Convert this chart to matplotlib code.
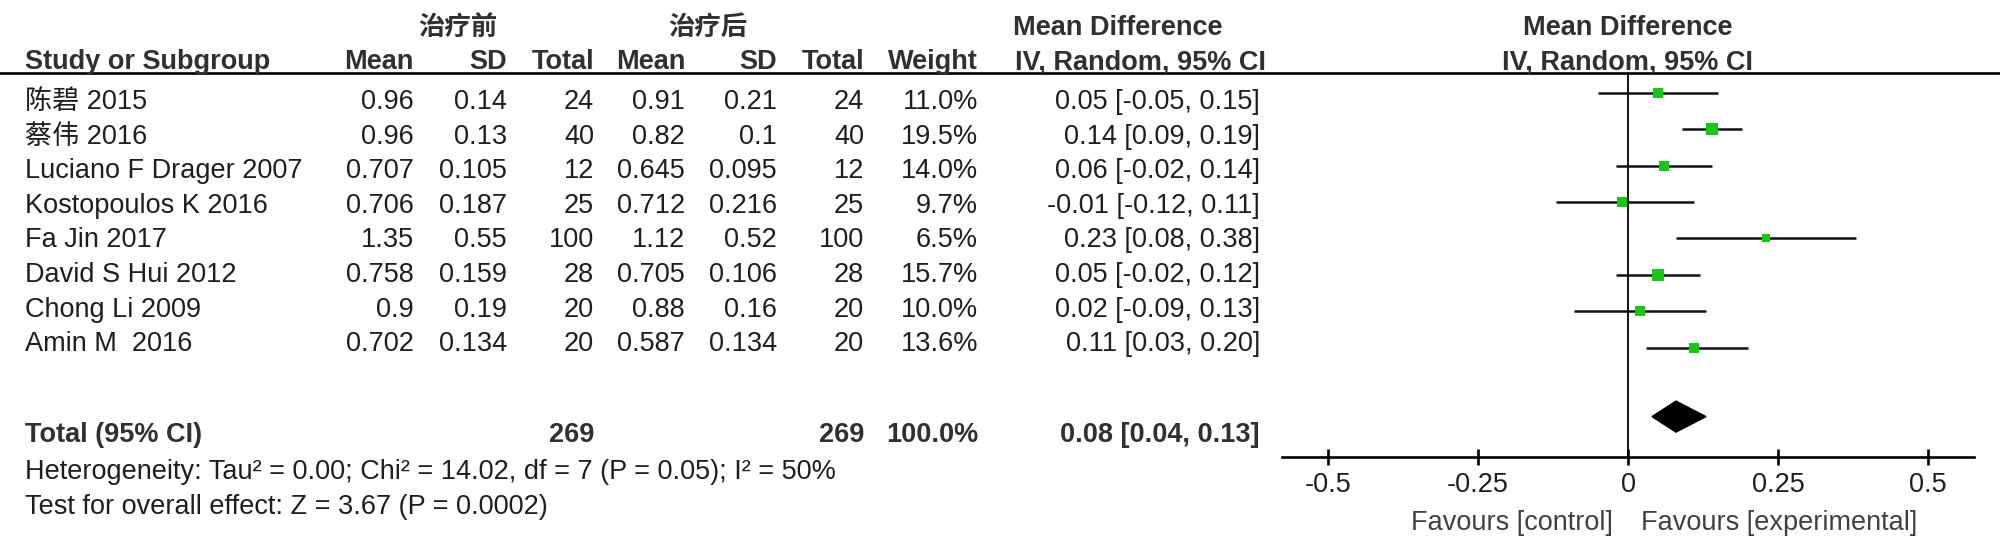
import matplotlib
matplotlib.use("Agg")
import matplotlib.pyplot as plt
from matplotlib.lines import Line2D
from matplotlib.patches import Polygon

# ---------------- data ----------------
studies = ['陈碧 2015', '蔡伟 2016', 'Luciano F Drager 2007', 'Kostopoulos K 2016',
           'Fa Jin 2017', 'David S Hui 2012', 'Chong Li 2009', 'Amin M  2016']
mean_pre = ['0.96', '0.96', '0.707', '0.706', '1.35', '0.758', '0.9', '0.702']
sd_pre = ['0.14', '0.13', '0.105', '0.187', '0.55', '0.159', '0.19', '0.134']
n_pre = [24, 40, 12, 25, 100, 28, 20, 20]
mean_post = ['0.91', '0.82', '0.645', '0.712', '1.12', '0.705', '0.88', '0.587']
sd_post = ['0.21', '0.1', '0.095', '0.216', '0.52', '0.106', '0.16', '0.134']
n_post = [24, 40, 12, 25, 100, 28, 20, 20]
weights = [11.0, 19.5, 14.0, 9.7, 6.5, 15.7, 10.0, 13.6]
md = [0.05, 0.14, 0.06, -0.01, 0.23, 0.05, 0.02, 0.11]
ci_lo = [-0.05, 0.09, -0.02, -0.12, 0.08, -0.02, -0.09, 0.03]
ci_hi = [0.15, 0.19, 0.14, 0.11, 0.38, 0.12, 0.13, 0.20]
total_md, total_lo, total_hi = 0.08, 0.04, 0.13
total_weight = 100.0
xticks = [-0.5, -0.25, 0, 0.25, 0.5]
xtick_labels = ['-0.5', '-0.25', '0', '0.25', '0.5']
heterogeneity = 'Heterogeneity: Tau² = 0.00; Chi² = 14.02, df = 7 (P = 0.05); I² = 50%'
overall = 'Test for overall effect: Z = 3.67 (P = 0.0002)'
group_pre = '治疗前'
group_post = '治疗后'

# ---------------- layout ----------------
W, H = 2000, 549
fig = plt.figure(figsize=(W / 100, H / 100), dpi=100)
FAM = ['Liberation Sans', 'Noto Sans CJK SC', 'DejaVu Sans']
FS = 19.5
C_TXT = '#1e1e1e'
C_HDR = '#303030'


def T(x, y, s, ha='left', bold=False, color=C_TXT, family=FAM, size=FS):
    fig.text(x / W, 1 - y / H, s, ha=ha, va='baseline', fontsize=size,
             fontweight='bold' if bold else 'normal', color=color, family=family)


# group headers
CJK_B = ['Noto Sans CJK SC', 'Liberation Sans']
T(458, 35, group_pre, ha='center', bold=True, color=C_HDR, family=CJK_B, size=19)
T(708, 35, group_post, ha='center', bold=True, color=C_HDR, family=CJK_B, size=19)
T(1118, 35, 'Mean Difference', ha='center', bold=True, color=C_HDR)
T(1628, 35, 'Mean Difference', ha='center', bold=True, color=C_HDR)

# column headers
hb = 69
T(25, hb, 'Study or Subgroup', bold=True, color=C_HDR)
col_r = [414, 507, 594, 685, 777, 864, 978]
for xr, lab in zip(col_r, ['Mean', 'SD', 'Total', 'Mean', 'SD', 'Total', 'Weight']):
    T(xr, hb, lab, ha='right', bold=True, color=C_HDR)
T(1015, hb, 'IV, Random, 95% CI', bold=True, color=C_HDR)
T(1628, hb, 'IV, Random, 95% CI', ha='center', bold=True, color=C_HDR)

fig.add_artist(Line2D([0, 1], [1 - 73 / H] * 2, lw=1.9, color='black'))

# study rows
base0, pitch = 109, 34.6
CI_R = 1260
for i in range(len(studies)):
    yb = base0 + pitch * i
    T(25, yb, studies[i])
    vals = [mean_pre[i], sd_pre[i], str(n_pre[i]), mean_post[i], sd_post[i],
            str(n_post[i]), f'{weights[i]:.1f}%']
    for xr, v in zip(col_r, vals):
        T(xr, yb, v, ha='right')
    T(CI_R, yb, f'{md[i]:.2f} [{ci_lo[i]:.2f}, {ci_hi[i]:.2f}]', ha='right')

# total row
yt = 442
T(25, yt, 'Total (95% CI)', bold=True, color=C_HDR)
T(col_r[2], yt, str(sum(n_pre)), ha='right', bold=True, color=C_HDR)
T(col_r[5], yt, str(sum(n_post)), ha='right', bold=True, color=C_HDR)
T(col_r[6], yt, f'{total_weight:.1f}%', ha='right', bold=True, color=C_HDR)
T(CI_R, yt, f'{total_md:.2f} [{total_lo:.2f}, {total_hi:.2f}]', ha='right',
  bold=True, color=C_HDR)
T(25, 479, heterogeneity)
T(25, 514, overall)

# ---------------- forest plot ----------------
ax_l, ax_r, ax_t, ax_b = 1282, 1974, 73, 457
ax = fig.add_axes([ax_l / W, 1 - ax_b / H, (ax_r - ax_l) / W, (ax_b - ax_t) / H])
row0_px, pitch_f = 93, 36.36
ax.set_ylim((ax_b - row0_px) / pitch_f, (ax_t - row0_px) / pitch_f)
x0_px, unit = 1628, 600.0
ax.set_xlim((ax_l - x0_px) / unit, (ax_r - x0_px) / unit)

ax.axvline(0, color='black', lw=1.3, zorder=1)
for i in range(len(studies)):
    ax.plot([ci_lo[i], ci_hi[i]], [i, i], color='#111111', lw=1.8,
            solid_capstyle='butt', zorder=2)
    side_px = 2.9 * weights[i] ** 0.5
    ax.plot([md[i]], [i], marker='s', markersize=side_px * 0.72,
            color='#14c814', markeredgewidth=0, zorder=3)

ty = 8.9
hh = 15.5 / pitch_f
ax.add_patch(Polygon([[total_lo, ty], [total_md, ty - hh], [total_hi, ty],
                      [total_md, ty + hh]], closed=True, color='black', zorder=3))

for s in ['top', 'right', 'left']:
    ax.spines[s].set_visible(False)
ax.spines['bottom'].set_linewidth(1.9)
ax.spines['bottom'].set_color('black')
ax.set_yticks([])
ax.set_xticks(xticks)
ax.set_xticklabels(xtick_labels, fontsize=FS, color=C_TXT, family=FAM)
ax.tick_params(axis='x', direction='inout', length=12, width=1.9, pad=5,
               color='black')
ax.patch.set_alpha(0)

T(1613, 530, 'Favours [control]', ha='right', color='#404040')
T(1641, 530, 'Favours [experimental]', ha='left', color='#404040')

fig.savefig('out.png', dpi=100)
